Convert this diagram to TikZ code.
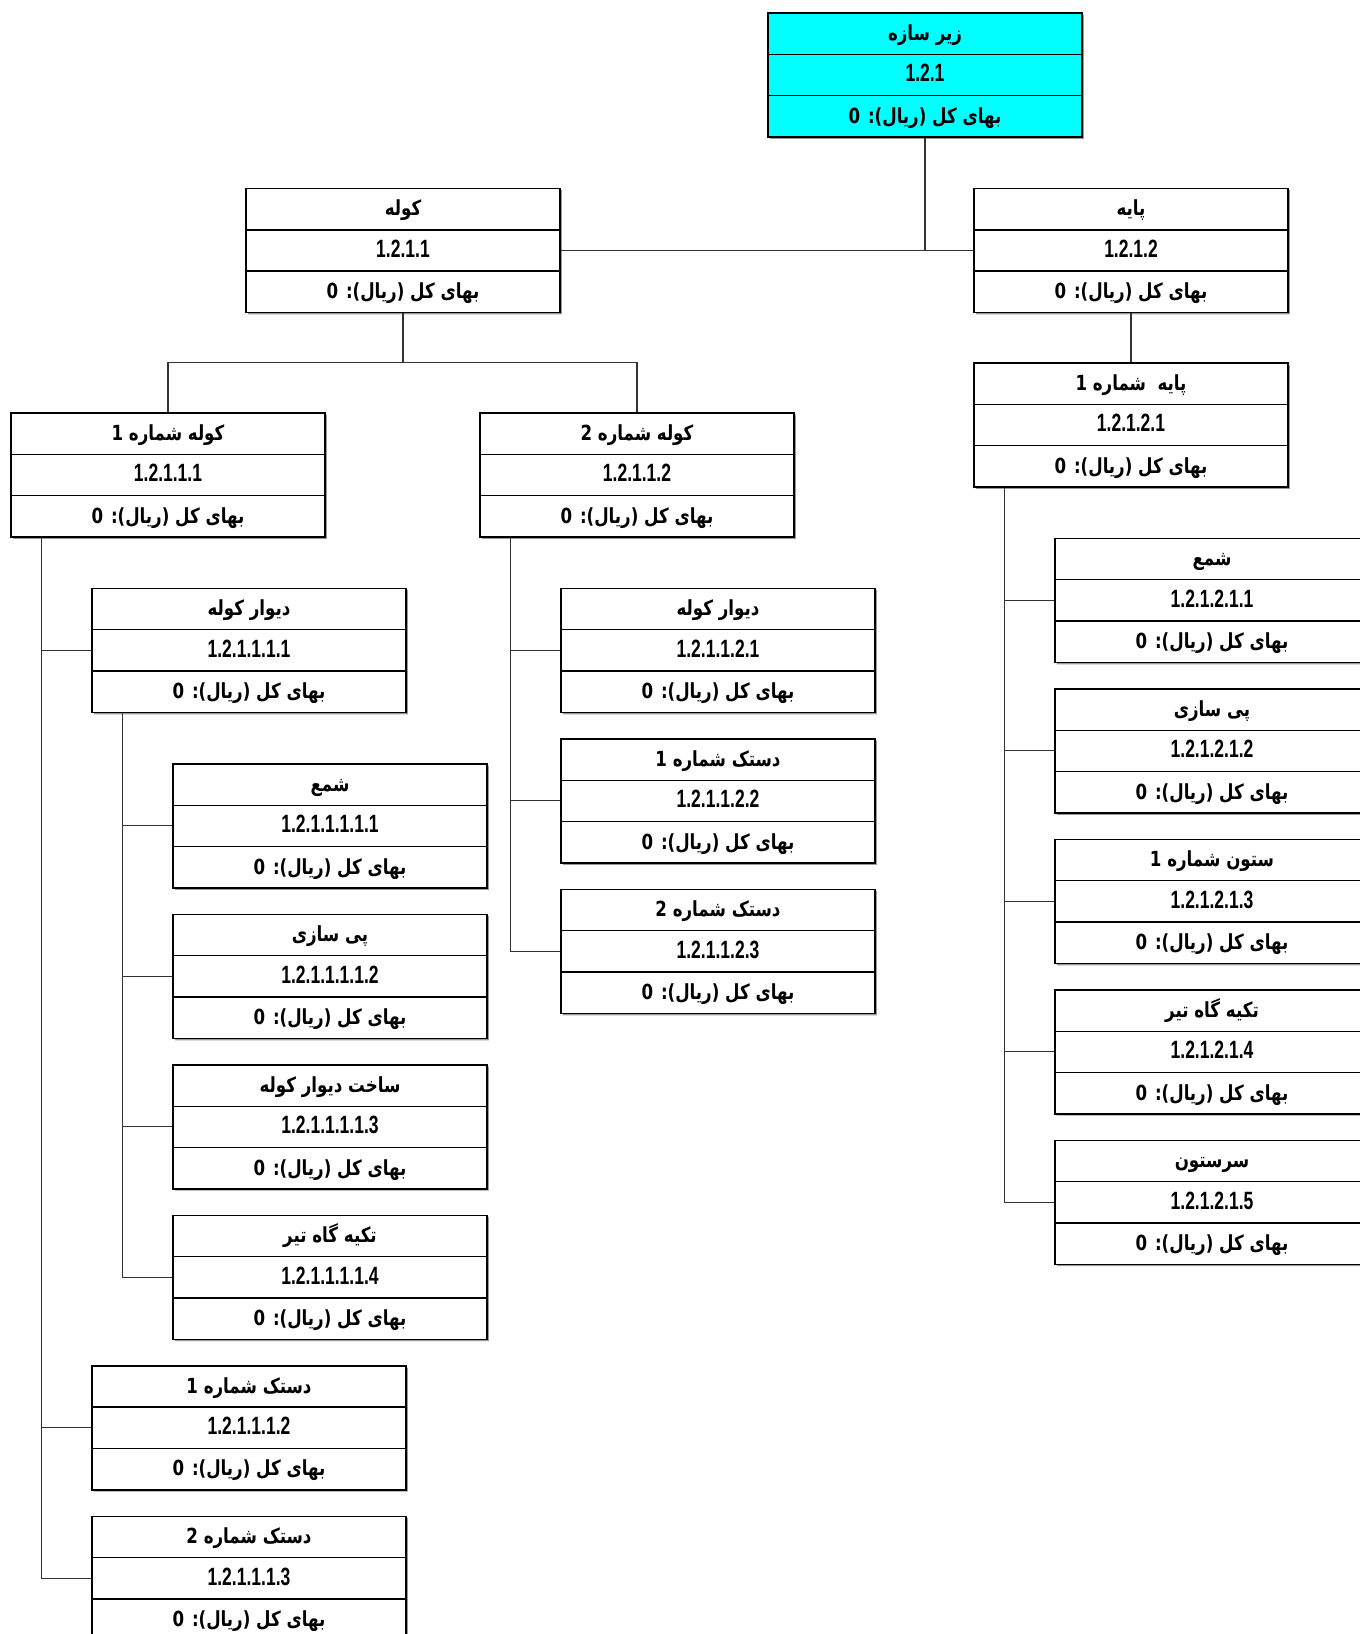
\documentclass[tikz,border=0pt]{standalone}
\usepackage{fontspec}
\setmainfont{Liberation Sans}[FakeStretch=0.7]
\newfontfamily\arabicfont[Script=Arabic,FakeStretch=0.8]{DejaVu Sans}
\TeXXeTstate=1
\usetikzlibrary{positioning,shapes.multipart,shadows}
\definecolor{WbsCyan}{HTML}{00FFFF}
\definecolor{WbsLine}{HTML}{333333}
\newcommand\fatext[1]{{\arabicfont\fontsize{10.4}{12}\selectfont\bfseries\beginR #1\endR}}
\newcommand\wbsstrut{\rule[-6.6pt]{0pt}{19.98pt}}
\newcommand\wbscost{\fatext{بهای کل (ریال): 0}}
\newcommand\wbstext[2]{\wbsstrut\fatext{#1}\nodepart{two}\wbsstrut#2\nodepart{three}\wbsstrut\wbscost}

\begin{document}
\begin{tikzpicture}[
  node distance=12.5pt,
  wbs/.style={rectangle split,rectangle split parts=3,draw=black,line width=0.7pt,fill=white,minimum width=157pt,inner xsep=4pt,inner ysep=0pt,font=\fontsize{12.5}{14}\selectfont\bfseries,drop shadow={shadow xshift=0.9pt,shadow yshift=-0.9pt,fill=black!40,opacity=1}},
  rootbox/.style={wbs,fill=WbsCyan},
  link/.style={draw=WbsLine,line width=0.55pt}
]
\useasboundingbox (0,0) rectangle (680pt,-817pt);
% top of the breakdown
\node[rootbox] (root) at (462.5pt,-37.5pt) {\wbstext{زیر سازه}{1.2.1}};
\node[wbs,below=25pt of root,xshift=-261pt] (kole) {\wbstext{کوله}{1.2.1.1}};
\node[wbs,below=25pt of root,xshift=103pt] (paye) {\wbstext{پایه}{1.2.1.2}};
\draw[link] (root.south) -- (root.south |- kole.east);
\draw[link] (kole.east) -- (paye.west);
% paye branch
\node[wbs,below=24.5pt of paye] (paye1) {\wbstext{پایه~ شماره 1}{1.2.1.2.1}};
\draw[link] (paye.south) -- (paye1.north);
\node[wbs,below=25pt of paye1,xshift=40.5pt] (shm2) {\wbstext{شمع}{1.2.1.2.1.1}};
\node[wbs,below=of shm2] (pey2) {\wbstext{پی سازی}{1.2.1.2.1.2}};
\node[wbs,below=of pey2] (sotun) {\wbstext{ستون شماره 1}{1.2.1.2.1.3}};
\node[wbs,below=of sotun] (tekye2) {\wbstext{تکیه گاه تیر}{1.2.1.2.1.4}};
\node[wbs,below=of tekye2] (sarsotun) {\wbstext{سرستون}{1.2.1.2.1.5}};
\draw[link] ([xshift=15.75pt]paye1.south west) |- (shm2.west);
\draw[link] ([xshift=15.75pt]paye1.south west) |- (pey2.west);
\draw[link] ([xshift=15.75pt]paye1.south west) |- (sotun.west);
\draw[link] ([xshift=15.75pt]paye1.south west) |- (tekye2.west);
\draw[link] ([xshift=15.75pt]paye1.south west) |- (sarsotun.west);
% kole branch
\node[wbs,below=49.5pt of kole,xshift=-117.5pt] (kole1) {\wbstext{کوله شماره 1}{1.2.1.1.1}};
\node[wbs,below=49.5pt of kole,xshift=117pt] (kole2) {\wbstext{کوله شماره 2}{1.2.1.1.2}};
\draw[link] (kole.south) -- ++(0,-24.75pt) -| (kole1.north);
\draw[link] (kole.south) -- ++(0,-24.75pt) -| (kole2.north);
% kole 1
\node[wbs,below=25pt of kole1,xshift=40.5pt] (divar1) {\wbstext{دیوار کوله}{1.2.1.1.1.1}};
\node[wbs,below=25pt of divar1,xshift=40.5pt] (shm1) {\wbstext{شمع}{1.2.1.1.1.1.1}};
\node[wbs,below=of shm1] (pey1) {\wbstext{پی سازی}{1.2.1.1.1.1.2}};
\node[wbs,below=of pey1] (sakht1) {\wbstext{ساخت دیوار کوله}{1.2.1.1.1.1.3}};
\node[wbs,below=of sakht1] (tekye1) {\wbstext{تکیه گاه تیر}{1.2.1.1.1.1.4}};
\node[wbs,below=of tekye1,xshift=-40.5pt] (dastak11) {\wbstext{دستک شماره 1}{1.2.1.1.1.2}};
\node[wbs,below=of dastak11] (dastak12) {\wbstext{دستک شماره 2}{1.2.1.1.1.3}};
\draw[link] ([xshift=15.75pt]kole1.south west) |- (divar1.west);
\draw[link] ([xshift=15.75pt]kole1.south west) |- (dastak11.west);
\draw[link] ([xshift=15.75pt]kole1.south west) |- (dastak12.west);
\draw[link] ([xshift=15.75pt]divar1.south west) |- (shm1.west);
\draw[link] ([xshift=15.75pt]divar1.south west) |- (pey1.west);
\draw[link] ([xshift=15.75pt]divar1.south west) |- (sakht1.west);
\draw[link] ([xshift=15.75pt]divar1.south west) |- (tekye1.west);
% kole 2
\node[wbs,below=25pt of kole2,xshift=40.5pt] (divar2) {\wbstext{دیوار کوله}{1.2.1.1.2.1}};
\node[wbs,below=of divar2] (dastak21) {\wbstext{دستک شماره 1}{1.2.1.1.2.2}};
\node[wbs,below=of dastak21] (dastak22) {\wbstext{دستک شماره 2}{1.2.1.1.2.3}};
\draw[link] ([xshift=15.75pt]kole2.south west) |- (divar2.west);
\draw[link] ([xshift=15.75pt]kole2.south west) |- (dastak21.west);
\draw[link] ([xshift=15.75pt]kole2.south west) |- (dastak22.west);
\end{tikzpicture}
\end{document}
